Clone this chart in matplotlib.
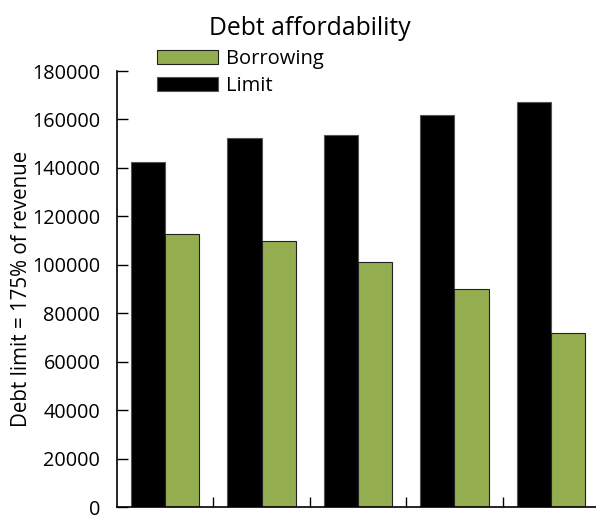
import matplotlib
matplotlib.use("Agg")
import matplotlib.pyplot as plt
import numpy as np

categories = ["1", "2", "3", "4", "5"]
limit = [142400, 152500, 153500, 162000, 167200]
borrowing = [112700, 109700, 101000, 89900, 71800]
yticks = [0, 20000, 40000, 60000, 80000, 100000, 120000, 140000, 160000, 180000]

plt.rcParams['font.family'] = ['Open Sans', 'DejaVu Sans']

fig = plt.figure(figsize=(5.96, 5.18), dpi=100)
ax = fig.add_axes([0.1963, 0.0212, 0.8087, 0.8417])

x = np.arange(len(categories))
w = 0.355
green = '#94AD4E'
b_lim = ax.bar(x - w / 2, limit, width=w, color='black', edgecolor='#555555', linewidth=0.8, label='Limit')
b_bor = ax.bar(x + w / 2, borrowing, width=w, color=green, edgecolor='#222222', linewidth=0.8, label='Borrowing')

ax.set_xlim(-0.5, len(categories) - 0.5)
ax.set_ylim(0, 180000)
ax.set_yticks(yticks)
ax.set_yticklabels([str(v) for v in yticks], fontsize=14.3)
ax.set_xticks(x[:-1] + 0.5)
ax.set_xticklabels([])
ax.tick_params(axis='y', direction='in', length=8, width=1, pad=12, colors='black')
ax.tick_params(axis='x', direction='in', length=7, width=1)
for s in ['top', 'right']:
    ax.spines[s].set_visible(False)
for s in ['left', 'bottom']:
    ax.spines[s].set_linewidth(1.2)

ax.set_ylabel('Debt limit = 175% of revenue', fontsize=14.8, labelpad=0.5)

fig.text(0.52, 0.932, 'Debt affordability', fontsize=17.8, ha='center', va='baseline')

fig.legend([b_bor, b_lim], ['Borrowing', 'Limit'], loc='upper left',
           bbox_to_anchor=(0.263, 0.906), frameon=False, fontsize=14.5,
           handlelength=3.05, handleheight=0.7, handletextpad=0.4,
           labelspacing=0.35, borderaxespad=0, borderpad=0)

fig.savefig('out.png', dpi=100)
